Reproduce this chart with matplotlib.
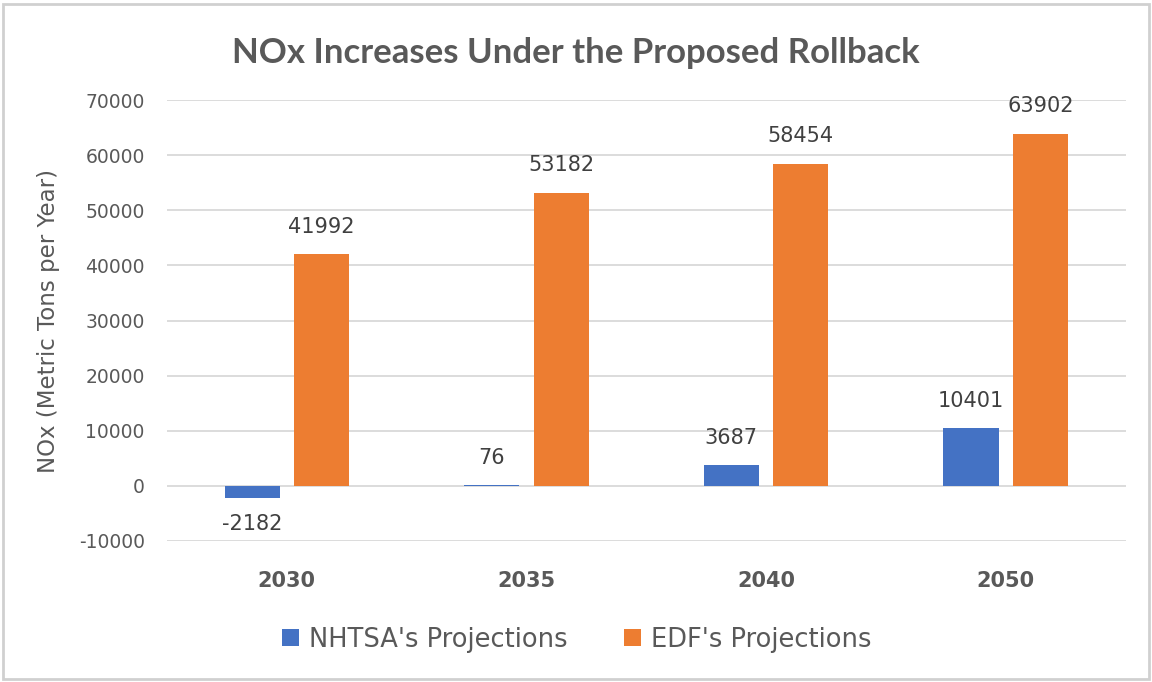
import matplotlib.pyplot as plt
import numpy as np
from matplotlib.patches import Rectangle

# NOx projections by year
years = ["2030", "2035", "2040", "2050"]
nhtsa = [-2182, 76, 3687, 10401]
edf = [41992, 53182, 58454, 63902]

blue = "#4472C4"
orange = "#ED7D31"
gray_txt = "#595959"

fig = plt.figure(figsize=(11.52, 6.82), dpi=100)
ax = fig.add_axes([0.145, 0.207, 0.832, 0.646])

x = np.arange(len(years))
w = 0.23
b1 = ax.bar(x - 0.145, nhtsa, w, color=blue, label="NHTSA's Projections", zorder=3)
b2 = ax.bar(x + 0.145, edf, w, color=orange, label="EDF's Projections", zorder=3)

# value labels
for rect, v in zip(b1, nhtsa):
    cx = rect.get_x() + rect.get_width() / 2
    if v < 0:
        ax.text(cx, v - 3000, str(v), ha="center", va="top", fontsize=15, color="#404040")
    else:
        ax.text(cx, v + 3200, str(v), ha="center", va="bottom", fontsize=15, color="#404040")
for rect, v in zip(b2, edf):
    cx = rect.get_x() + rect.get_width() / 2
    ax.text(cx, v + 3200, str(v), ha="center", va="bottom", fontsize=15, color="#404040")

ax.set_xlim(-0.5, 3.5)
ax.set_ylim(-10000, 70000)
ax.set_yticks(range(-10000, 70001, 10000))
ax.set_yticklabels([str(t) for t in range(-10000, 70001, 10000)], fontsize=13.5, color=gray_txt)
ax.set_xticks(x)
ax.set_xticklabels(years, fontsize=15, fontweight="bold", color=gray_txt)
ax.tick_params(axis="both", length=0)
ax.tick_params(axis="x", pad=22)
ax.tick_params(axis="y", pad=16)
ax.grid(axis="y", color="#D9D9D9", linewidth=1.3, zorder=0)
for s in ax.spines.values():
    s.set_visible(False)

ax.set_ylabel("NOx (Metric Tons per Year)", fontsize=16.5, color=gray_txt)
ax.yaxis.set_label_coords(-0.112, 0.5)

fig.text(0.5, 0.922, "NOx Increases Under the Proposed Rollback", ha="center", va="center",
         fontsize=25, fontweight="bold", color=gray_txt, family="Lato")

fig.legend(loc="center", bbox_to_anchor=(0.501, 0.062), ncol=2, frameon=False,
           fontsize=18.5, labelcolor=gray_txt, handlelength=0.65, handleheight=0.65,
           handletextpad=0.4, columnspacing=2.2)

# outer frame
fig.patches.append(Rectangle((0.003, 0.004), 0.994, 0.99, transform=fig.transFigure,
                             fill=False, edgecolor="#D0D0D0", linewidth=2))

fig.savefig("out.png", dpi=100)
